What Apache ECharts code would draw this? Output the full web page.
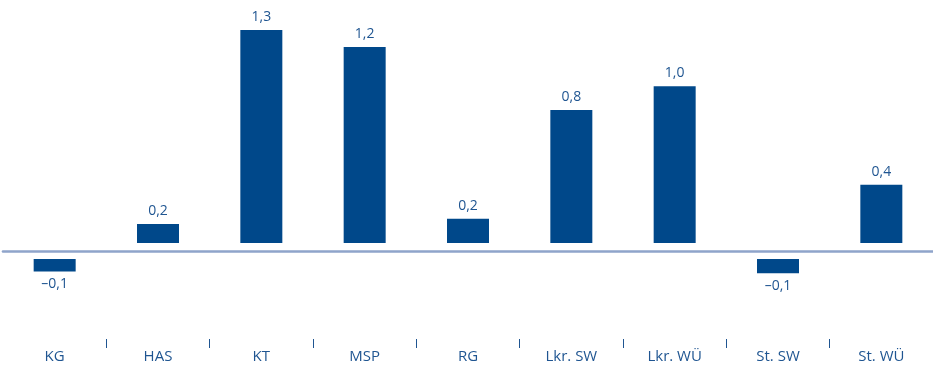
<!DOCTYPE html>
<html>
<head>
<meta charset="utf-8">
<script src="https://cdn.jsdelivr.net/npm/echarts@6/dist/echarts.min.js"></script>
<style>
html, body { margin: 0; padding: 0; background: #fff; }
#main { width: 933px; height: 366px; }
</style>
</head>
<body>
<div id="main"></div>
<script>
var regions = ['KG', 'HAS', 'KT', 'MSP', 'RG', 'Lkr. SW', 'Lkr. WÜ', 'St. SW', 'St. WÜ'];
var changes = [-0.12, 0.16, 1.3, 1.2, 0.19, 0.83, 0.97, -0.13, 0.39];

var barColor = '#00488a';
var textColor = '#1f5591';

// Balken mit Label oben/unten je nach Vorzeichen
var barData = changes.map(function (v) {
    return {
        value: v,
        label: { position: v < 0 ? 'bottom' : 'top' }
    };
});

var myChart = echarts.init(document.getElementById('main'));
var option = {
    animation: false,
    grid: {
        left: 3,
        top: 10,
        width: 931,
        height: 329
    },
    xAxis: [
        {
            type: 'category',
            data: regions,
            z: 10,
            axisLine: { onZero: true, lineStyle: { color: '#8fa4ca', width: 2.6 } },
            axisTick: { show: false },
            axisLabel: { show: false }
        },
        {
            type: 'category',
            data: regions,
            position: 'bottom',
            axisLine: { show: false },
            axisTick: {
                show: true,
                length: 9,
                lineStyle: { color: textColor, width: 1 },
                interval: function (index) { return index !== 0; }
            },
            axisLabel: {
                margin: 10,
                color: textColor,
                fontSize: 15,
                fontFamily: 'Open Sans'
            }
        }
    ],
    yAxis: {
        type: 'value',
        min: -0.517,
        max: 1.418,
        show: false,
        splitLine: { show: false }
    },
    series: [
        {
            type: 'bar',
            data: barData,
            barWidth: 42,
            itemStyle: { color: barColor },
            label: {
                show: true,
                distance: 6,
                color: textColor,
                fontSize: 14,
                fontFamily: 'Open Sans',
                formatter: function (p) {
                    return p.value.toFixed(1).replace('.', ',').replace('-', '–');
                }
            },
            markLine: {
                silent: true,
                symbol: 'none',
                label: { show: false },
                lineStyle: { color: '#ffffff', width: 16, type: 'solid' },
                data: [{ yAxis: 0 }]
            }
        }
    ]
};
myChart.setOption(option);
</script>
</body>
</html>
